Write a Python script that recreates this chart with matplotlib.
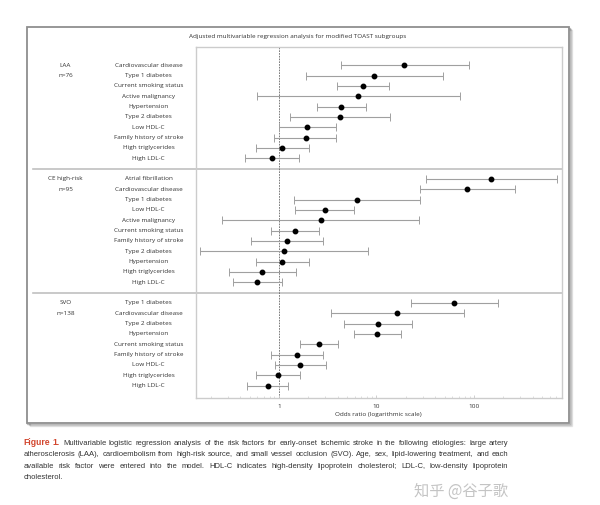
import matplotlib
matplotlib.use('Agg')
import math
import matplotlib.pyplot as plt
from matplotlib import transforms
from matplotlib.patches import Rectangle
from matplotlib.lines import Line2D
from matplotlib.font_manager import FontProperties, findfont, get_font
from matplotlib.backends.backend_agg import get_hinting_flag
import numpy as np

# ---------------- data ----------------
title = "Adjusted multivariable regression analysis for modified TOAST subgroups"
xlabel = "Odds ratio (logarithmic scale)"
xticks = [1, 10, 100]
xtick_labels = ["1", "10", "100"]

group_names = ["LAA", "CE high-risk", "SVO"]
group_n = ["n=76", "n=95", "n=138"]

laa_factors = ["Cardiovascular disease", "Type 1 diabetes", "Current smoking status",
               "Active malignancy", "Hypertension", "Type 2 diabetes", "Low HDL-C",
               "Family history of stroke", "High triglycerides", "High LDL-C"]
laa_or = [19.3, 9.5, 7.3, 6.5, 4.36, 4.19, 1.95, 1.88, 1.08, 0.84]
laa_lo = [4.3, 1.88, 3.9, 0.59, 2.44, 1.30, 1.0, 0.90, 0.58, 0.45]
laa_hi = [88.9, 48.4, 13.5, 72.4, 7.9, 13.7, 3.84, 3.84, 2.05, 1.59]

ce_factors = ["Atrial fibrillation", "Cardiovascular disease", "Type 1 diabetes", "Low HDL-C",
              "Active malignancy", "Current smoking status", "Family history of stroke",
              "Type 2 diabetes", "Hypertension", "High triglycerides", "High LDL-C"]
ce_or = [150.6, 85.4, 6.36, 2.94, 2.68, 1.47, 1.22, 1.12, 1.08, 0.67, 0.60]
ce_lo = [32.2, 27.7, 1.44, 1.47, 0.26, 0.82, 0.52, 0.156, 0.585, 0.31, 0.34]
ce_hi = [705, 263, 28.1, 5.88, 27.5, 2.59, 2.81, 8.1, 2.03, 1.49, 1.07]

svo_factors = ["Type 1 diabetes", "Cardiovascular disease", "Type 2 diabetes", "Hypertension",
               "Current smoking status", "Family history of stroke", "Low HDL-C",
               "High triglycerides", "High LDL-C"]
svo_or = [62.4, 16.2, 10.4, 10.1, 2.57, 1.53, 1.65, 0.98, 0.77]
svo_lo = [22.6, 3.39, 4.68, 5.92, 1.64, 0.83, 0.92, 0.585, 0.47]
svo_hi = [177, 78.4, 23.3, 17.7, 4.0, 2.81, 3.03, 1.63, 1.24]

caption_lines = [
    "Figure 1. Multivariable logistic regression analysis of the risk factors for early-onset ischemic stroke in the following etiologies: large artery",
    "atherosclerosis (LAA), cardioembolism from high-risk source, and small vessel occlusion (SVO). Age, sex, lipid-lowering treatment, and each",
    "available risk factor were entered into the model. HDL-C indicates high-density lipoprotein cholesterol; LDL-C, low-density lipoprotein",
    "cholesterol.",
]
watermark = "知乎 @谷子歌"

groups = [(laa_factors, laa_or, laa_lo, laa_hi),
          (ce_factors, ce_or, ce_lo, ce_hi),
          (svo_factors, svo_or, svo_lo, svo_hi)]

# ---------------- layout ----------------
W, H = 600, 505
DPI = 100
fig = plt.figure(figsize=(W / DPI, H / DPI), dpi=DPI)
fig.patch.set_facecolor('white')

def fx(px):
    return px / W

def fy(py):
    return 1 - py / H

# outer frame with shadow (behind the axes)
x0, y0, x1, y1 = 26.5, 26.5, 569, 423
for i, a in enumerate([0.10, 0.16, 0.25]):
    off = 3 - i
    fig.add_artist(Rectangle((fx(x0 + off), fy(y1 + off)), (x1 - x0) / W, (y1 - y0) / H,
                             transform=fig.transFigure, facecolor='none',
                             edgecolor=(0, 0, 0, a), lw=1.0, zorder=-3))
fig.add_artist(Rectangle((fx(x0), fy(y1)), (x1 - x0) / W, (y1 - y0) / H,
                         transform=fig.transFigure, facecolor='white',
                         edgecolor='#8f8f8f', lw=1.3, zorder=-2))

ax_l, ax_r, ax_t, ax_b = 195.7, 561.5, 47.3, 397.5
ax = fig.add_axes([fx(ax_l), fy(ax_b), (ax_r - ax_l) / W, (ax_b - ax_t) / H])
ax.set_zorder(2)
ax.patch.set_alpha(0)
ax.set_xscale('log')
ax.set_xlim(0.14, 790)
ax.set_ylim(32.16, -1.74)
for s in ax.spines.values():
    s.set_color('#cccccc')
    s.set_linewidth(1.0)
ax.set_yticks([])
ax.set_xticks(xticks)
ax.set_xticklabels(xtick_labels)
ax.tick_params(axis='x', which='major', labelsize=4.6, labelcolor='#333333',
               length=2, width=0.6, color='#c8c8c8', direction='in', pad=5)
ax.tick_params(axis='x', which='minor', length=1.5, width=0.5, color='#d0d0d0',
               direction='in')
ax.set_xlabel(xlabel, fontsize=4.6, color='#333333', labelpad=1.5, family='Open Sans')
for lbl in ax.get_xticklabels():
    lbl.set_family('Open Sans')

ax.axvline(1, color='#666666', lw=0.6, ls=(0, (2, 1.3)), zorder=1)

trans = transforms.blended_transform_factory(fig.transFigure, ax.transData)
label_kw = dict(fontsize=4.6, color='#333333', ha='center', va='center',
                family='Open Sans', transform=trans)

start = 0
for gi, (facs, ors, los, his) in enumerate(groups):
    ys = np.arange(len(facs)) + start
    ors_a = np.array(ors)
    err = [ors_a - np.array(los), np.array(his) - ors_a]
    ax.errorbar(ors_a, ys, xerr=err, fmt='o', color='black', ms=3.2,
                ecolor='#a0a0a0', elinewidth=0.8, capsize=2.6, capthick=0.7, zorder=3)
    for y, f in zip(ys, facs):
        fig.text(fx(148.5), y, f, **label_kw)
    fig.text(fx(65.5), start, group_names[gi], **label_kw)
    fig.text(fx(65.5), start + 1, group_n[gi], **label_kw)
    end = start + len(facs)
    if gi < len(groups) - 1:
        fig.add_artist(Line2D([fx(33), fx(ax_r)], [end, end], transform=trans,
                              color='#c0c0c0', lw=1.2, zorder=-1))
    start = end + 1

fig.text(fx(298), fy(36.7), title, fontsize=4.6, color='#333333', ha='center',
         va='center', family='Open Sans')

# ---------------- caption (justified) ----------------
fig.canvas.draw()
renderer = fig.canvas.get_renderer()
cap_left, cap_right = 23.5, 508.5
cap_ys = [445, 456, 468, 479]   # integer pixel baselines
cap_family = 'Liberation Sans'

def width_of(s, **kw):
    t = fig.text(0, 0, s, fontsize=10, family=cap_family, **kw)
    w = t.get_window_extent(renderer).width
    t.remove()
    return w

def baseline_shift(word, size, weight):
    """Pixel shift Agg introduces for a word's baseline (rounding of descent)."""
    prop = FontProperties(family=cap_family, size=size, weight=weight)
    font = get_font(findfont(prop))
    font.clear()
    font.set_size(size, DPI)
    font.set_text(word, 0, flags=get_hinting_flag())
    d = font.get_descent() / 64.0
    hgt = font.get_width_height()[1] / 64.0
    a = hgt - d
    return (round(d) - math.floor(a + d) + math.floor(a))

ref_w = width_of(caption_lines[1])
cap_size = 10 * (cap_right - cap_left) / ref_w * 0.985

for li, line in enumerate(caption_lines):
    words = line.split(' ')
    styles = []
    for wi, w in enumerate(words):
        if li == 0 and wi < 2:
            styles.append(dict(color='#d2452d', weight='bold', fontsize=cap_size * 1.12))
        else:
            styles.append(dict(color='#333333', weight='normal', fontsize=cap_size))
    texts = []
    widths = []
    for w, st in zip(words, styles):
        try:
            sh = baseline_shift(w, st['fontsize'], st['weight'])
        except Exception:
            sh = 0
        t = fig.text(0, fy(cap_ys[li] - sh), w, family=cap_family,
                     va='baseline', ha='left', **st)
        texts.append(t)
        widths.append(t.get_window_extent(renderer).width)
    if li < len(caption_lines) - 1:
        gap = ((cap_right - cap_left) - sum(widths)) / (len(words) - 1)
    else:
        gap = 2.0
    x = cap_left
    for t, wd in zip(texts, widths):
        t.set_x(fx(x))
        x += wd + gap

fig.text(fx(461), fy(491.5), watermark, fontsize=11, color='#c4c4c4', ha='center',
         va='center', family=['Noto Sans CJK SC', 'DejaVu Sans'])

fig.savefig('out.png', dpi=DPI, facecolor='white')
